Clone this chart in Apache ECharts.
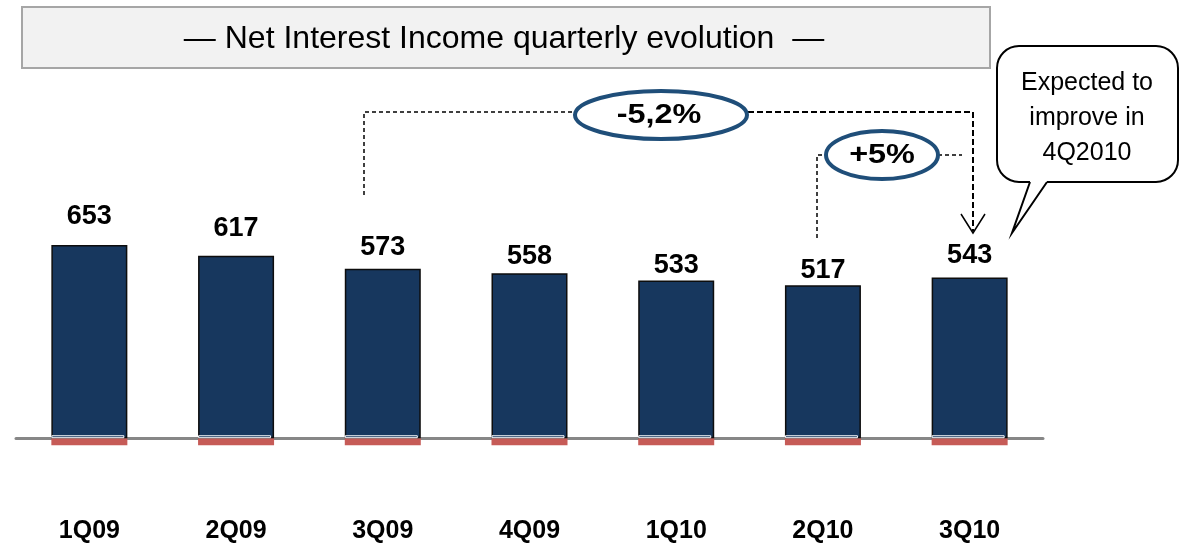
<!DOCTYPE html>
<html>
<head>
<meta charset="utf-8">
<script src="https://cdn.jsdelivr.net/npm/echarts@6/dist/echarts.min.js"></script>
<style>
html, body { margin: 0; padding: 0; background: #fff; }
#main { width: 1180px; height: 548px; }
</style>
</head>
<body>
<div id="main"></div>
<script>
// 季度净利息收入
var quarters = ['1Q09', '2Q09', '3Q09', '4Q09', '1Q10', '2Q10', '3Q10'];
var income = [653, 617, 573, 558, 533, 517, 543];
var changeLabels = ['-5,2%', '+5%'];
var noteLines = ['Expected to', 'improve in', '4Q2010'];
var titleText = '\u2014 Net Interest Income quarterly evolution  \u2014';

// label gap above each bar (layout only)
var labelGap = [15, 14, 8, 3, 1, 1, 9];

var font = 'Liberation Sans, Arial, sans-serif';
var navy = '#17375e';
var ringBlue = '#1f4e79';

var chart = echarts.init(document.getElementById('main'));

var mainData = [];
var stripData = [];
var redData = [];
for (var i = 0; i < income.length; i++) {
	mainData.push({ value: income[i], label: { distance: labelGap[i] } });
	stripData.push(10);
	redData.push(-24);
}

var dash = function(points, w, pattern) {
	return {
		type : 'polyline',
		shape : { points : points },
		style : { stroke : '#000', lineWidth : w, lineDash : pattern, fill : null },
		z : 10
	};
};

// 椭圆
var oval = function(cx, cy, rx, ry) {
	return {
		type : 'ellipse',
		shape : { cx : cx, cy : cy, rx : rx, ry : ry },
		style : { fill : '#fff', stroke : ringBlue, lineWidth : 4 },
		z : 11
	};
};

var ovalText = function(txt, x, y) {
	return {
		type : 'text',
		x : x,
		y : y,
		scaleX : 1.2,
		style : {
			text : txt,
			font : 'bold 27px ' + font,
			fill : '#000',
			textAlign : 'center',
			textVerticalAlign : 'middle'
		},
		z : 12
	};
};

var option = {
	animation : false,
	grid : { left : 16, right : 137, top : 98, bottom : 95, outerBoundsMode : 'none', containLabel : false },
	xAxis : {
		type : 'category',
		data : quarters,
		axisTick : { show : false },
		axisLine : { lineStyle : { color : '#878787', width : 3 } },
		axisLabel : {
			margin : 66,
			color : '#000',
			fontSize : 25,
			fontWeight : 'bold',
			fontFamily : font
		}
	},
	yAxis : {
		type : 'value',
		min : -50,
		max : 1150,
		show : false,
		splitLine : { show : false }
	},
	series : [ {
		name : 'NII',
		type : 'bar',
		barWidth : 76,
		barGap : '-100%',
		data : mainData,
		itemStyle : { color : navy, borderColor : '#0d0d0d', borderWidth : 1.5 },
		label : {
			show : true,
			position : 'top',
			color : '#000',
			fontSize : 27,
			fontWeight : 'bold',
			fontFamily : font
		},
		z : 2
	}, {
		name : 'strip',
		type : 'bar',
		barWidth : 73,
		barGap : '-100%',
		data : stripData,
		itemStyle : { color : navy, borderColor : '#fff', borderWidth : 1 },
		silent : true,
		z : 3
	}, {
		name : 'red',
		type : 'bar',
		barWidth : 76,
		barGap : '-100%',
		data : redData,
		itemStyle : { color : '#c65b57' },
		silent : true,
		z : 1
	} ],
	graphic : [
		{
			type : 'rect',
			shape : { x : 22, y : 7, width : 968, height : 61 },
			style : { fill : '#f2f2f2', stroke : '#a6a6a6', lineWidth : 2 }
		},
		{
			type : 'text',
			x : 504,
			y : 39,
			style : {
				text : titleText,
				font : '32px ' + font,
				fill : '#000',
				textAlign : 'center',
				textVerticalAlign : 'middle'
			}
		},
		// callout bubble
		{
			type : 'rect',
			shape : { x : 997, y : 46, width : 181, height : 136, r : 22 },
			style : { fill : '#fff', stroke : '#000', lineWidth : 2 },
			z : 5
		},
		{
			type : 'polygon',
			shape : { points : [ [ 1030, 176 ], [ 1047, 176 ], [ 1047, 182 ], [ 1012, 233 ], [ 1030, 182 ] ] },
			style : { fill : '#fff', stroke : null },
			z : 6
		},
		{
			type : 'polyline',
			shape : { points : [ [ 1030, 182 ], [ 1012, 233 ], [ 1047, 182 ] ] },
			style : { stroke : '#000', lineWidth : 2, fill : null },
			z : 7
		},
		{
			type : 'text',
			x : 1087,
			y : 66,
			style : {
				text : noteLines.join('\n'),
				font : '25px ' + font,
				lineHeight : 35,
				fill : '#000',
				textAlign : 'center',
				textVerticalAlign : 'top'
			},
			z : 8
		},
		// dashed connectors
		dash([ [ 364, 195 ], [ 364, 112 ], [ 574, 112 ] ], 1.5, [ 4, 3 ]),
		dash([ [ 748, 112 ], [ 973, 112 ], [ 973, 231 ] ], 2, [ 6, 3 ]),
		dash([ [ 817, 238 ], [ 817, 155 ], [ 827, 155 ] ], 1.5, [ 4, 3 ]),
		dash([ [ 938, 155 ], [ 962, 155 ] ], 1.5, [ 4, 3 ]),
		{
			type : 'polyline',
			shape : { points : [ [ 961, 214 ], [ 973, 233 ], [ 985, 214 ] ] },
			style : { stroke : '#000', lineWidth : 1.5, fill : null },
			z : 10
		},
		oval(661, 115, 86, 24),
		ovalText(changeLabels[0], 659, 116),
		oval(882, 155, 56, 24),
		ovalText(changeLabels[1], 882, 156)
	]
};

chart.setOption(option);
</script>
</body>
</html>
